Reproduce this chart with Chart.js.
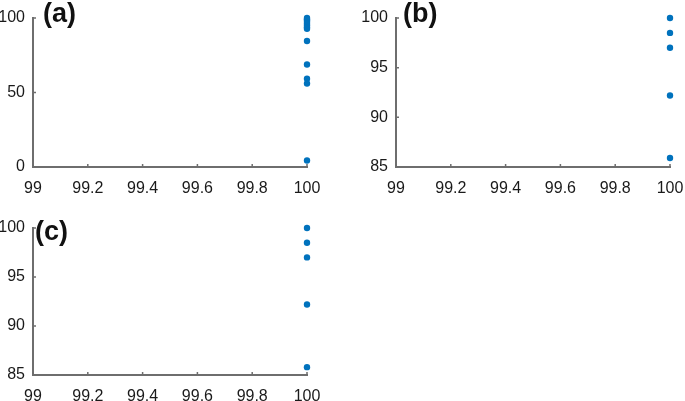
<!DOCTYPE html>
<html lang="en">
  <head>
    <meta charset="UTF-8" />
    <title>Scatter panels</title>
    <script src="https://cdn.jsdelivr.net/npm/chart.js@4.4.1/dist/chart.umd.min.js"></script>
    <style>
      body { margin: 0; background: #fff; width: 685px; height: 401px; position: relative; overflow: hidden; }
      .panel { position: absolute; }
      .tag { position: absolute; font: bold 27px Arial, "Liberation Sans", sans-serif; color: #111; line-height: 1; }
    </style>
  </head>
  <body>
    <div class="panel" style="left:0;top:0;width:340px;height:200px"><canvas id="chartA"></canvas></div>
    <div class="panel" style="left:340px;top:0;width:345px;height:200px"><canvas id="chartB"></canvas></div>
    <div class="panel" style="left:0;top:200px;width:340px;height:201px"><canvas id="chartC"></canvas></div>
    <div class="tag" style="left:43px;top:0px">(a)</div>
    <div class="tag" style="left:403px;top:0px">(b)</div>
    <div class="tag" style="left:35px;top:218px">(c)</div>

    <script>
      // values
      var xTicks = [99, 99.2, 99.4, 99.6, 99.8, 100];

      var xA = [100, 100, 100, 100, 100, 100, 100, 100, 100, 100, 100, 100, 100];
      var yA = [100, 99.2, 98.4, 97.3, 96.2, 95, 93.8, 92.8, 84.6, 68.8, 59.3, 56, 4.4];

      var xB = [100, 100, 100, 100, 100];
      var yB = [100, 98.5, 97, 92.2, 85.9];

      var xC = [100, 100, 100, 100, 100];
      var yC = [100, 98.5, 97, 92.2, 85.8];

      var axisColor = "#6e6e6e";
      var dotColor = "#0072BD";
      var tickFont = { family: "Arial, 'Liberation Sans', sans-serif", size: 16 };

      // small inward ticks like matlab
      var inwardTicks = {
        id: "inwardTicks",
        afterDraw: function (chart) {
          var ctx = chart.ctx;
          var xs = chart.scales.x, ys = chart.scales.y;
          var area = chart.chartArea;
          ctx.save();
          ctx.strokeStyle = axisColor;
          ctx.lineWidth = 1.5;
          ctx.beginPath();
          xs.ticks.forEach(function (t) {
            var px = xs.getPixelForValue(t.value);
            ctx.moveTo(px, area.bottom);
            ctx.lineTo(px, area.bottom - 3);
          });
          ys.ticks.forEach(function (t) {
            var py = ys.getPixelForValue(t.value);
            ctx.moveTo(area.left, py);
            ctx.lineTo(area.left + 3, py);
          });
          ctx.stroke();
          ctx.restore();
        },
      };

      function makePanel(id, xs, ys, yMin, yMax, yStep, leftW, bottomH, pad) {
        var pts = xs.map(function (x, i) { return { x: x, y: ys[i] }; });
        return new Chart(document.getElementById(id), {
          type: "scatter",
          data: {
            datasets: [{
              data: pts,
              backgroundColor: dotColor,
              borderColor: dotColor,
              borderWidth: 0,
              pointRadius: 3.2,
              pointHoverRadius: 3.2,
              clip: false,
            }],
          },
          options: {
            responsive: true,
            maintainAspectRatio: false,
            animation: false,
            events: [],
            layout: { padding: pad },
            plugins: { legend: { display: false }, tooltip: { enabled: false } },
            scales: {
              x: {
                type: "linear",
                min: 99,
                max: 100,
                afterBuildTicks: function (s) {
                  s.ticks = xTicks.map(function (v) { return { value: v }; });
                },
                afterFit: function (s) {
                  s.height = bottomH;
                  // let layout padding alone decide the right edge
                  s.paddingRight = 0;
                  s.paddingLeft = 0;
                },
                grid: { display: false, drawTicks: false },
                border: { color: axisColor, width: 2 },
                ticks: {
                  color: "#1a1a1a",
                  padding: 12,
                  maxRotation: 0,
                  font: tickFont,
                  callback: function (v) { return String(Math.round(v * 10) / 10); },
                },
              },
              y: {
                min: yMin,
                max: yMax,
                afterFit: function (s) { s.width = leftW; },
                grid: { display: false, drawTicks: false },
                border: { color: axisColor, width: 2 },
                ticks: {
                  stepSize: yStep,
                  color: "#1a1a1a",
                  padding: 8,
                  font: tickFont,
                },
              },
            },
          },
          plugins: [inwardTicks],
        });
      }

      makePanel("chartA", xA, yA, 0, 100, 50, 33, 33, { top: 18, right: 33, bottom: 0, left: 0 });
      makePanel("chartB", xB, yB, 85, 100, 5, 56, 33, { top: 18, right: 15, bottom: 0, left: 0 });
      makePanel("chartC", xC, yC, 85, 100, 5, 33, 26, { top: 28, right: 33, bottom: 0, left: 0 });
    </script>
  </body>
</html>
